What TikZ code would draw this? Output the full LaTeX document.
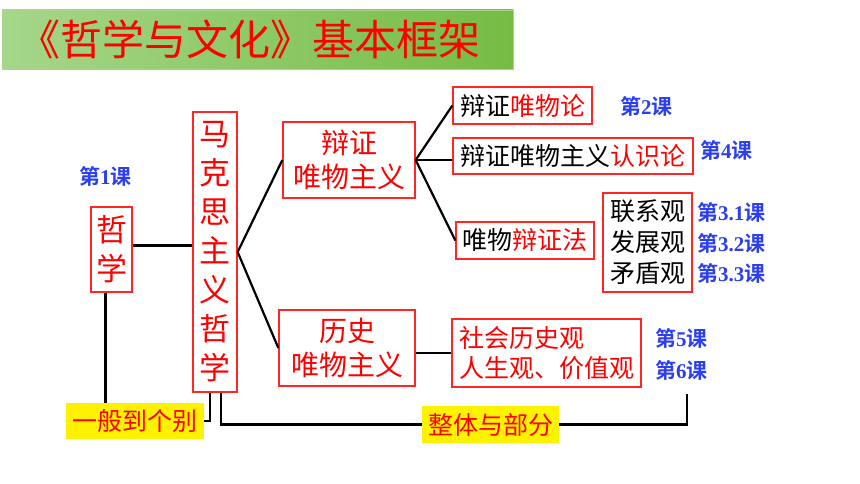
\documentclass[tikz,border=0pt]{standalone}
\usepackage{fontspec}
\setmainfont{Liberation Serif}
\newfontfamily\cjk{Noto Sans CJK SC}[BoldFont={Noto Sans CJK SC Bold}]
\usepackage{tikz}
\usetikzlibrary{positioning}
\definecolor{barleft}{HTML}{A6D68A}
\definecolor{barright}{HTML}{76BC43}
\definecolor{keblue}{HTML}{2B3FF0}
\tikzstyle{block} = [ rectangle, draw=red!85, line width=1.3pt, text=red, inner sep=0pt, align=center, font=\cjk\fontsize{28}{34}\selectfont ]
\tikzstyle{small} = [ block, font=\cjk\fontsize{25}{31}\selectfont ]
\tikzstyle{hint} = [ rectangle, fill=yellow, text=red, inner sep=0pt, font=\cjk\fontsize{25}{30}\selectfont ]
\tikzstyle{lesson} = [ inner sep=0pt, anchor=west, text=keblue, font=\fontsize{21}{25}\selectfont ]
\tikzstyle{line} = [ draw, line width=2.2pt ]
\newcommand{\ke}[1]{{\cjk\bfseries 第}\textbf{#1}{\cjk\bfseries 课}}

\begin{document}
\begin{tikzpicture}[x=1pt, y=-1pt]
\useasboundingbox (0,0) rectangle (860,484);

% title
\node [rectangle, draw=barleft, left color=barleft, right color=barright, minimum width=511pt, minimum height=59pt, inner sep=0pt] (title) at (257.5,39.5) {};
\node [text=red, inner sep=0pt, font=\cjk\fontsize{42}{48}\selectfont] (titletext) at ([xshift=-8pt]title.center) {《哲学与文化》基本框架};

% main frame
\node [block, minimum width=41pt, minimum height=85pt, font=\cjk\fontsize{31}{39}\selectfont] (zhexue) at (111.5,249.5) {哲\\学};
\node [block, minimum width=44pt, minimum height=280pt, font=\cjk\fontsize{31}{39}\selectfont] (makesi) at (215,252) {马\\克\\思\\主\\义\\哲\\学};
\node [block, minimum width=132pt, minimum height=76pt] (bianzheng) at (349,160) {辩证\\唯物主义};
\node [block, minimum width=136pt, minimum height=76pt] (lishi) at (347,348) {历史\\唯物主义};
\node [small, minimum width=139pt, minimum height=37pt] (weiwulun) at (522.5,105.5) {\textcolor{black}{辩证}唯物论};
\node [small, minimum width=240pt, minimum height=36pt] (renshilun) at (573,156) {\textcolor{black}{辩证唯物主义}认识论};
\node [small, minimum width=138pt, minimum height=37pt] (bianzhengfa) at (525,240.5) {\textcolor{black}{唯物}辩证法};
\node [small, minimum width=89pt, minimum height=99pt, text=black] (sanguan) at (647.5,242.5) {联系观\\发展观\\矛盾观};
\node [small, minimum width=189pt, minimum height=68pt, align=left, font=\cjk\fontsize{25}{30}\selectfont] (shehui) at (546.5,353) {社会历史观\\人生观、价值观};
\node [hint, minimum width=138pt, minimum height=36pt] (yiban) at (135,421) {一般到个别};
\node [hint, minimum width=137pt, minimum height=37pt] (zhengti) at (490.5,424.5) {整体与部分};

% lessons
\node [lesson] (ke1) at (79,176) {\ke{1}};
\node [lesson] (ke2) at (620,106) {\ke{2}};
\node [lesson] (ke4) at (700,150) {\ke{4}};
\node [lesson] (ke31) at (697,212) {\ke{3.1}};
\node [lesson] (ke32) at (697,243) {\ke{3.2}};
\node [lesson] (ke33) at (697,273) {\ke{3.3}};
\node [lesson] (ke5) at (655,338) {\ke{5}};
\node [lesson] (ke6) at (655,370) {\ke{6}};
\coordinate (zhengtiend) at (687,394);

% links
\path [line] ([yshift=4pt]zhexue.east) -- ([yshift=4pt]zhexue.east -| makesi.west);
\path [line] (makesi.east) -- (bianzheng.west);
\path [line] (makesi.east) -- (lishi.west);
\path [line] (bianzheng.east) -- (weiwulun.west);
\path [line] (bianzheng.east) -- (bianzheng.east -| renshilun.west);
\path [line] (bianzheng.east) -- (bianzhengfa.west);
\path [line] (lishi.east |- shehui.west) -- (shehui.west);
\path [line] ([xshift=-6pt]zhexue.south) -- ([xshift=-6pt]zhexue.south |- yiban.north);
\path [line] ([xshift=-5pt]makesi.south) |- (yiban.east);
\path [line] ([xshift=6pt]makesi.south) |- (zhengti.west);
\path [line] (zhengti.east) -| (zhengtiend);
\end{tikzpicture}
\end{document}
